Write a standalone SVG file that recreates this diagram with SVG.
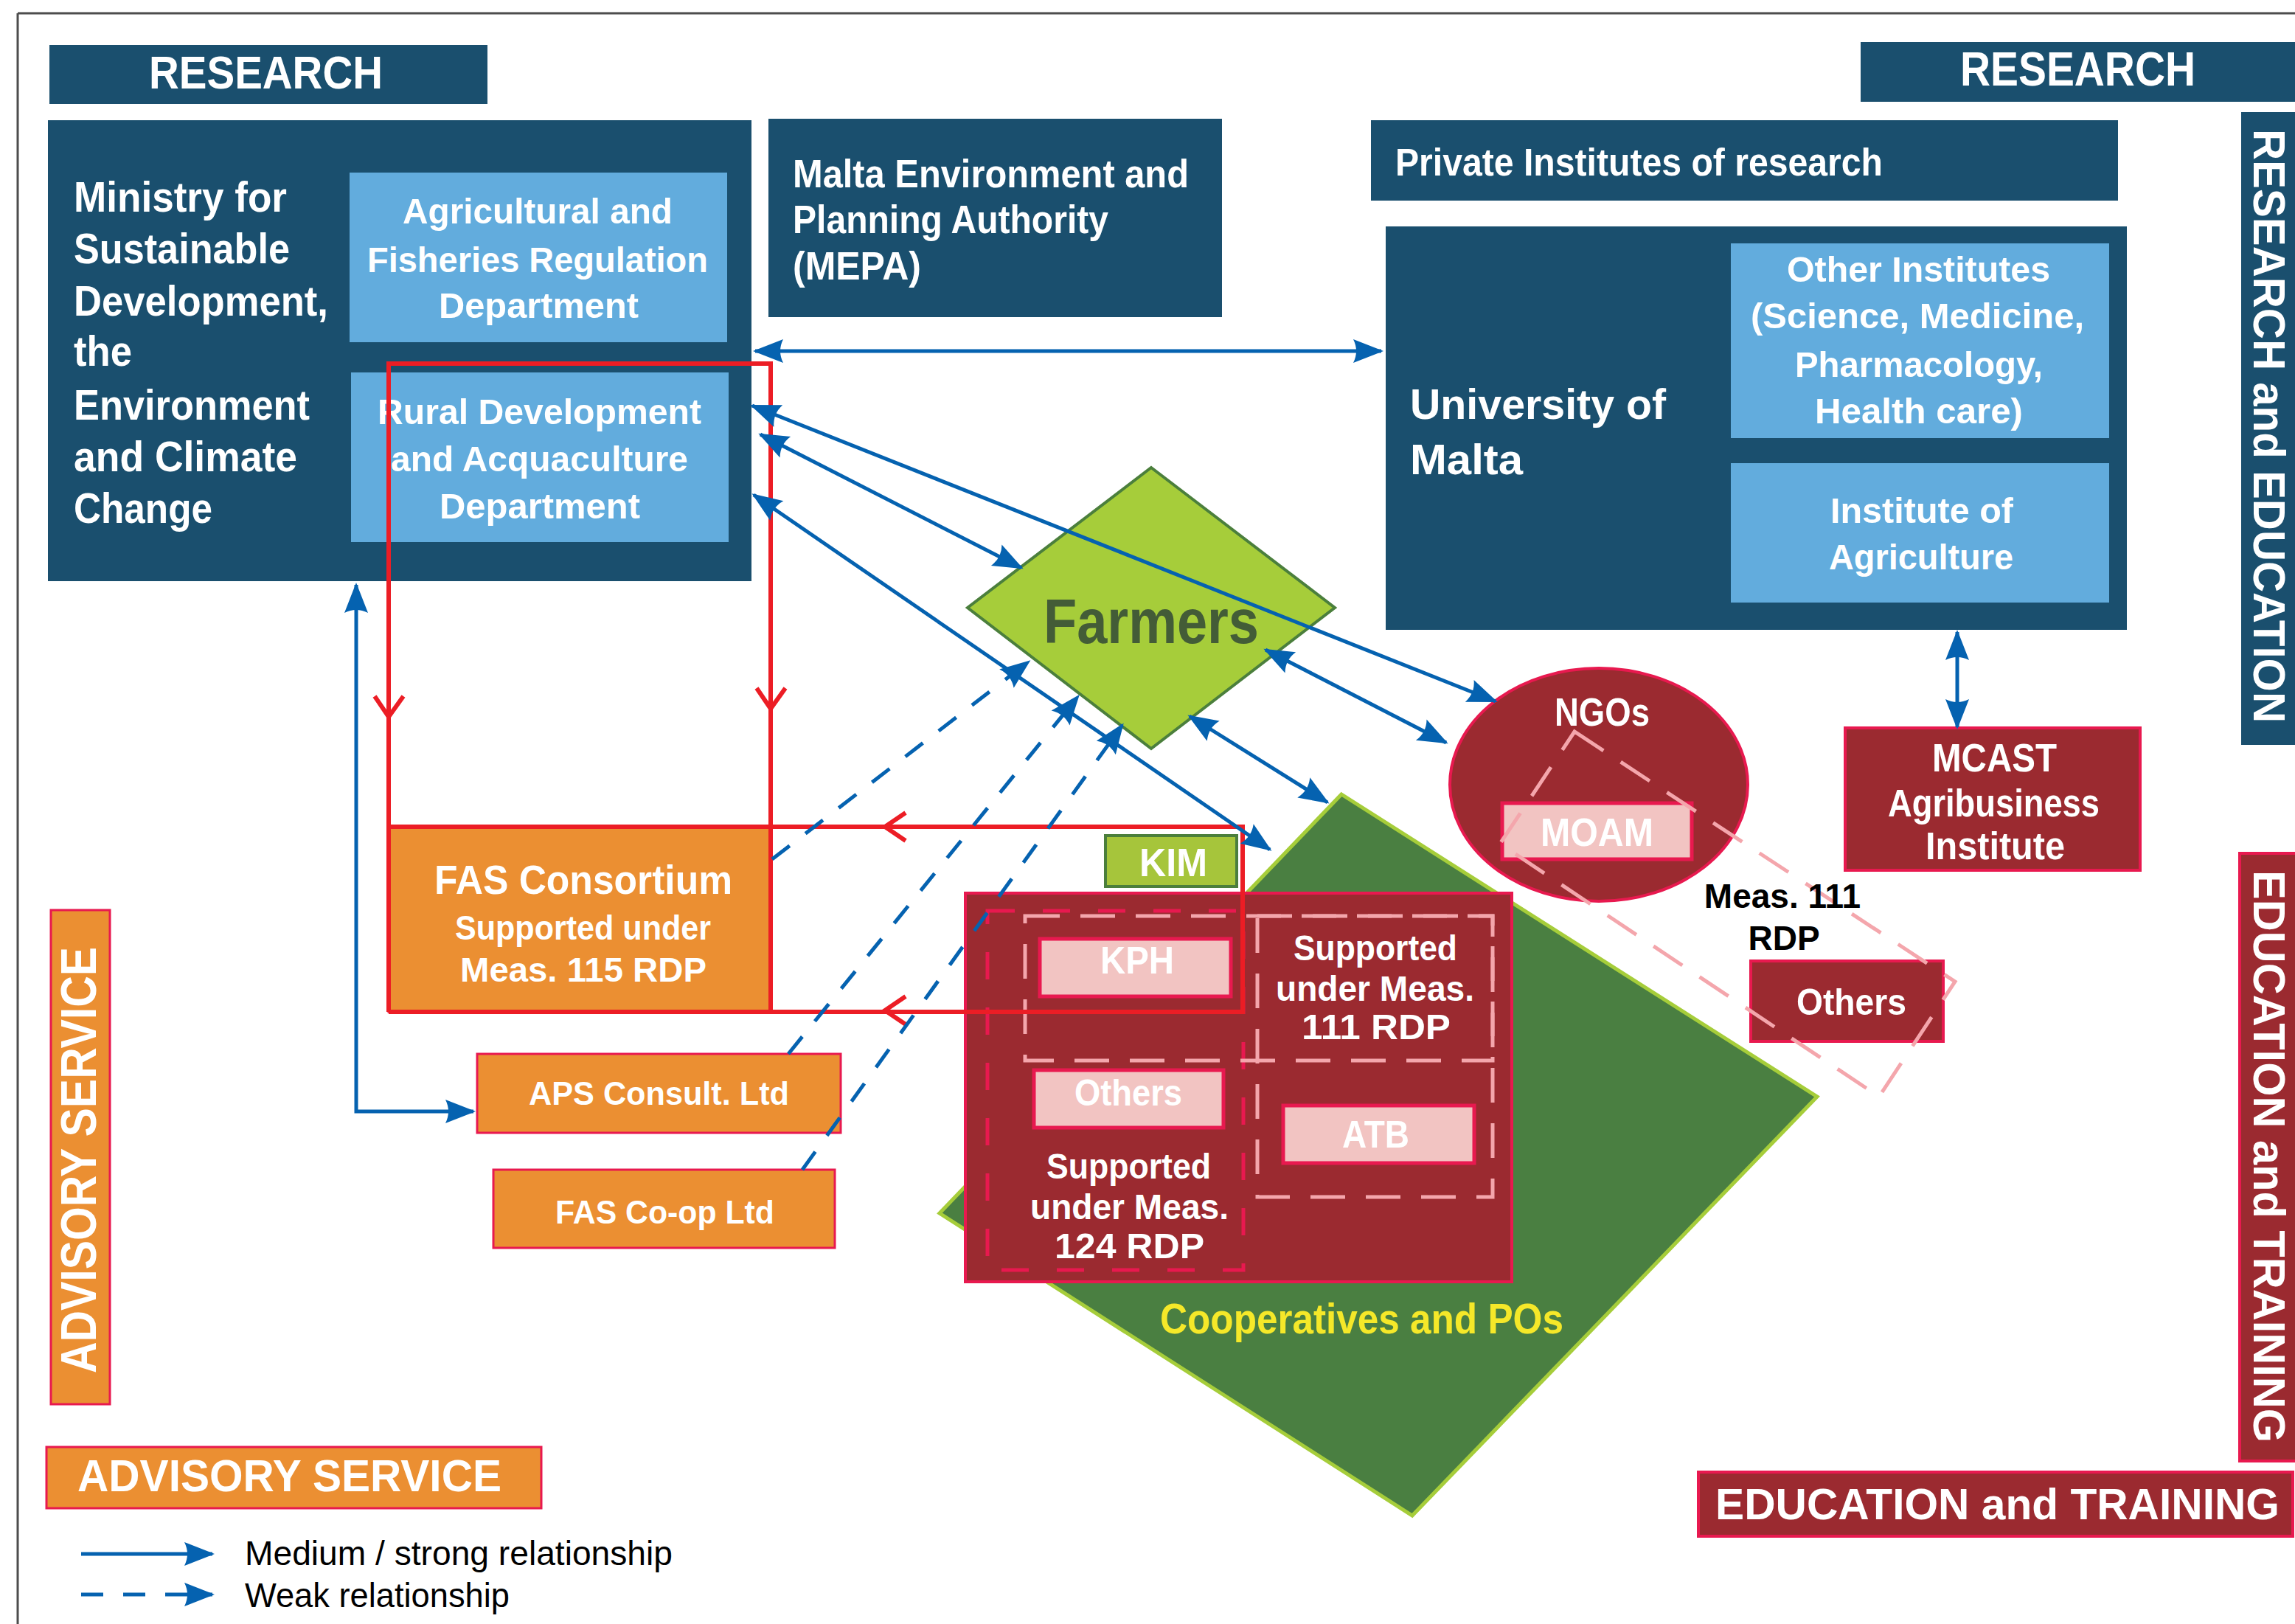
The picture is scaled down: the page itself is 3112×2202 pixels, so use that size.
<svg xmlns="http://www.w3.org/2000/svg" width="3112" height="2202" viewBox="0 0 3112 2202">
<style>
.t{font-family:"Liberation Sans Narrow","Liberation Sans",Arial,sans-serif;font-weight:bold;fill:#fff}
.ar{font-family:"Liberation Sans",Arial,sans-serif;font-weight:bold}
.reg{font-family:"Liberation Sans Narrow","Liberation Sans",Arial,sans-serif;font-weight:normal;fill:#000}
.dk{fill:#1a4f6e}
.lb{fill:#62acdd}
.or{fill:#eb8f32;stroke:#e8194f;stroke-width:3}
.mr{fill:#9b2a30;stroke:#e8194f;stroke-width:4}
.pk{fill:#f2c4c2;stroke:#e8194f;stroke-width:5}
.conn{stroke:#0562b0;stroke-width:5;fill:none;marker-start:url(#ah);marker-end:url(#ah)}
.one{stroke:#0562b0;stroke-width:5;fill:none;marker-end:url(#ah)}
.weak{stroke-dasharray:30 27}
.red{stroke:#ec1d25;stroke-width:6;fill:none}
.rdash{fill:none;stroke:#e8194f;stroke-width:5;stroke-dasharray:37 38}
.pdash{fill:none;stroke:#f4a6ac;stroke-width:5;stroke-dasharray:47 28}
</style>
<defs>
<marker id="ah" viewBox="-45 -20 50 40" refX="0" refY="0" markerWidth="50" markerHeight="40" markerUnits="userSpaceOnUse" orient="auto-start-reverse">
<path d="M3,0 L-38,-16 Q-30,0 -38,16 Z" fill="#0562b0"/>
</marker>
</defs>

<g id="frame" fill="none" stroke="#4d4d4d" stroke-width="3">
<line x1="24" y1="18" x2="3112" y2="18"/>
<line x1="24" y1="18" x2="24" y2="2202"/>
</g>

<g id="research-left">
<rect class="dk" x="67" y="61" width="594" height="80"/>
<text class="t" x="202" y="120" font-size="63" textLength="317" lengthAdjust="spacingAndGlyphs">RESEARCH</text>
</g>

<g id="ministry">
<rect class="dk" x="65" y="163" width="954" height="625"/>
<text class="t" x="100" y="287" font-size="57" textLength="289" lengthAdjust="spacingAndGlyphs">Ministry for</text>
<text class="t" x="100" y="357" font-size="57" textLength="293" lengthAdjust="spacingAndGlyphs">Sustainable</text>
<text class="t" x="100" y="428" font-size="57" textLength="345" lengthAdjust="spacingAndGlyphs">Development,</text>
<text class="t" x="100" y="496" font-size="57" textLength="79" lengthAdjust="spacingAndGlyphs">the</text>
<text class="t" x="100" y="569" font-size="57" textLength="320" lengthAdjust="spacingAndGlyphs">Environment</text>
<text class="t" x="100" y="639" font-size="57" textLength="303" lengthAdjust="spacingAndGlyphs">and Climate</text>
<text class="t" x="100" y="709" font-size="57" textLength="188" lengthAdjust="spacingAndGlyphs">Change</text>
</g>

<g id="agri-dept">
<rect class="lb" x="474" y="234" width="512" height="230"/>
<text class="t" x="546" y="303" font-size="49" textLength="366" lengthAdjust="spacingAndGlyphs">Agricultural and</text>
<text class="t" x="498" y="369" font-size="49" textLength="462" lengthAdjust="spacingAndGlyphs">Fisheries Regulation</text>
<text class="t" x="595" y="431" font-size="49" textLength="271" lengthAdjust="spacingAndGlyphs">Department</text>
</g>

<g id="rural-dept">
<rect class="lb" x="476" y="505" width="512" height="230"/>
<text class="t" x="512" y="575" font-size="49" textLength="439" lengthAdjust="spacingAndGlyphs">Rural Development</text>
<text class="t" x="530" y="639" font-size="49" textLength="403" lengthAdjust="spacingAndGlyphs">and Acquaculture</text>
<text class="t" x="596" y="703" font-size="49" textLength="272" lengthAdjust="spacingAndGlyphs">Department</text>
</g>

<g id="mepa">
<rect class="dk" x="1042" y="161" width="615" height="269"/>
<text class="t" x="1075" y="254" font-size="53" textLength="537" lengthAdjust="spacingAndGlyphs">Malta Environment and</text>
<text class="t" x="1075" y="316" font-size="53" textLength="428" lengthAdjust="spacingAndGlyphs">Planning Authority</text>
<text class="t" x="1075" y="379" font-size="53" textLength="174" lengthAdjust="spacingAndGlyphs">(MEPA)</text>
</g>

<g id="private-institutes">
<rect class="dk" x="1859" y="163" width="1013" height="109"/>
<text class="t" x="1892" y="238" font-size="51" textLength="661" lengthAdjust="spacingAndGlyphs">Private Institutes of research</text>
</g>

<g id="university">
<rect class="dk" x="1879" y="307" width="1005" height="547"/>
<text class="t" x="1912" y="568" font-size="58" textLength="347" lengthAdjust="spacingAndGlyphs">University of</text>
<text class="t" x="1912" y="643" font-size="58" textLength="153" lengthAdjust="spacingAndGlyphs">Malta</text>
</g>

<g id="other-institutes">
<rect class="lb" x="2347" y="330" width="513" height="264"/>
<text class="t" x="2423" y="382" font-size="49" textLength="357" lengthAdjust="spacingAndGlyphs">Other Institutes</text>
<text class="t" x="2374" y="445" font-size="49" textLength="452" lengthAdjust="spacingAndGlyphs">(Science, Medicine,</text>
<text class="t" x="2434" y="511" font-size="49" textLength="336" lengthAdjust="spacingAndGlyphs">Pharmacology,</text>
<text class="t" x="2461" y="574" font-size="49" textLength="282" lengthAdjust="spacingAndGlyphs">Health care)</text>
</g>

<g id="institute-agriculture">
<rect class="lb" x="2347" y="628" width="513" height="189"/>
<text class="t" x="2482" y="709" font-size="49" textLength="248" lengthAdjust="spacingAndGlyphs">Institute of</text>
<text class="t" x="2480" y="772" font-size="49" textLength="250" lengthAdjust="spacingAndGlyphs">Agriculture</text>
</g>

<g id="research-right">
<rect class="dk" x="2523" y="57" width="589" height="81"/>
<text class="t" x="2658" y="116" font-size="64" textLength="319" lengthAdjust="spacingAndGlyphs">RESEARCH</text>
</g>

<g id="research-education">
<rect class="dk" x="3039" y="152" width="73" height="858"/>
<text class="t ar" transform="translate(3056,175) rotate(90)" font-size="61" textLength="805" lengthAdjust="spacingAndGlyphs">RESEARCH and EDUCATION</text>
</g>

<g id="education-training-v">
<rect class="mr" x="3037" y="1157" width="80" height="824"/>
<text class="t ar" transform="translate(3056,1180) rotate(90)" font-size="61" textLength="776" lengthAdjust="spacingAndGlyphs">EDUCATION and TRAINING</text>
</g>

<g id="education-training-h">
<rect class="mr" x="2303" y="1996" width="806" height="87"/>
<text class="t ar" x="2326" y="2060" font-size="60" textLength="765" lengthAdjust="spacingAndGlyphs">EDUCATION and TRAINING</text>
</g>

<g id="mcast">
<rect class="mr" x="2502" y="987" width="400" height="193"/>
<text class="t" x="2620" y="1046" font-size="54" textLength="169" lengthAdjust="spacingAndGlyphs">MCAST</text>
<text class="t" x="2560" y="1107" font-size="51" textLength="287" lengthAdjust="spacingAndGlyphs">Agribusiness</text>
<text class="t" x="2611" y="1165" font-size="51" textLength="189" lengthAdjust="spacingAndGlyphs">Institute</text>
</g>

<g id="cooperatives">
<polygon points="1819,1077 2464,1487 1915,2055 1274,1645" fill="#4a7f41" stroke="#a6cd3a" stroke-width="5"/>
<text class="t" x="1573" y="1808" font-size="57" textLength="547" lengthAdjust="spacingAndGlyphs" style="fill:#f5e829">Cooperatives and POs</text>
</g>

<g id="ngos">
<ellipse class="mr" cx="2168" cy="1064" rx="202" ry="158"/>
<text class="t" x="2108" y="984" font-size="53" textLength="129" lengthAdjust="spacingAndGlyphs">NGOs</text>
</g>

<g id="moam">
<rect class="pk" x="2037" y="1089" width="257" height="76"/>
<text class="t" x="2089" y="1147" font-size="53" textLength="153" lengthAdjust="spacingAndGlyphs">MOAM</text>
</g>

<g id="others-right">
<rect class="mr" x="2374" y="1303" width="261" height="109"/>
<text class="t" x="2436" y="1376" font-size="50" textLength="149" lengthAdjust="spacingAndGlyphs">Others</text>
</g>

<g id="meas111-group">
<polygon class="pdash" points="2135,992 2651,1331 2548,1487 2034,1144" stroke-dasharray="55 30"/>
<text class="ar" x="2417" y="1231" font-size="46" text-anchor="middle" fill="#000">Meas. 111</text>
<text class="ar" x="2419" y="1288" font-size="46" text-anchor="middle" fill="#000">RDP</text>
</g>

<g id="coop-box">
<rect class="mr" x="1309" y="1211" width="741" height="527"/>
<rect class="rdash" x="1339" y="1235" width="347" height="487"/>
<rect class="pdash" x="1390" y="1242" width="634" height="196"/>
<rect class="pdash" x="1705" y="1242" width="319" height="381"/>
<text class="t" x="1754" y="1302" font-size="48" textLength="222" lengthAdjust="spacingAndGlyphs">Supported</text>
<text class="t" x="1730" y="1357" font-size="48" textLength="269" lengthAdjust="spacingAndGlyphs">under Meas.</text>
<text class="t" x="1765" y="1409" font-size="48" textLength="202" lengthAdjust="spacingAndGlyphs">111 RDP</text>
<text class="t" x="1419" y="1598" font-size="48" textLength="223" lengthAdjust="spacingAndGlyphs">Supported</text>
<text class="t" x="1397" y="1653" font-size="48" textLength="269" lengthAdjust="spacingAndGlyphs">under Meas.</text>
<text class="t" x="1430" y="1706" font-size="48" textLength="203" lengthAdjust="spacingAndGlyphs">124 RDP</text>
</g>

<g id="kph">
<rect class="pk" x="1410" y="1273" width="259" height="78"/>
<text class="t" x="1492" y="1320" font-size="52" textLength="100" lengthAdjust="spacingAndGlyphs">KPH</text>
</g>

<g id="others-inner">
<rect class="pk" x="1402" y="1451" width="257" height="78"/>
<text class="t" x="1457" y="1499" font-size="50" textLength="146" lengthAdjust="spacingAndGlyphs">Others</text>
</g>

<g id="atb">
<rect class="pk" x="1740" y="1499" width="259" height="78"/>
<text class="t" x="1820" y="1556" font-size="52" textLength="91" lengthAdjust="spacingAndGlyphs">ATB</text>
</g>

<g id="kim">
<rect x="1499" y="1133" width="178" height="69" fill="#a6c53b" stroke="#4b7f3c" stroke-width="4"/>
<text class="t" x="1545" y="1188" font-size="53" textLength="92" lengthAdjust="spacingAndGlyphs">KIM</text>
</g>

<g id="farmers">
<polygon points="1561,634 1810,824 1561,1015 1312,824" fill="#a6cd3a" stroke="#4b7f3c" stroke-width="4"/>
<text class="t" x="1415" y="872" font-size="86" textLength="292" lengthAdjust="spacingAndGlyphs" style="fill:#435c37">Farmers</text>
</g>

<g id="fas-consortium">
<rect class="or" x="527" y="1121" width="518" height="251"/>
<text class="t" x="589" y="1212" font-size="56" textLength="404" lengthAdjust="spacingAndGlyphs">FAS Consortium</text>
<text class="t" x="617" y="1274" font-size="46" textLength="347" lengthAdjust="spacingAndGlyphs">Supported under</text>
<text class="t" x="624" y="1331" font-size="46" textLength="334" lengthAdjust="spacingAndGlyphs">Meas. 115 RDP</text>
</g>

<g id="aps">
<rect class="or" x="647" y="1429" width="493" height="107"/>
<text class="t" x="717" y="1498" font-size="45" textLength="353" lengthAdjust="spacingAndGlyphs">APS Consult. Ltd</text>
</g>

<g id="fas-coop">
<rect class="or" x="669" y="1586" width="463" height="106"/>
<text class="t" x="753" y="1659" font-size="45" textLength="297" lengthAdjust="spacingAndGlyphs">FAS Co-op Ltd</text>
</g>

<g id="advisory-v">
<rect class="or" x="69" y="1234" width="80" height="670"/>
<text class="t ar" transform="translate(130,1862) rotate(-90)" font-size="68" textLength="578" lengthAdjust="spacingAndGlyphs">ADVISORY SERVICE</text>
</g>

<g id="legend">
<rect class="or" x="63" y="1962" width="671" height="83"/>
<text class="t" x="105" y="2022" font-size="62" textLength="575" lengthAdjust="spacingAndGlyphs">ADVISORY SERVICE</text>
<line class="one" x1="110" y1="2107" x2="288" y2="2107"/>
<line class="one weak" x1="110" y1="2162" x2="288" y2="2162" stroke-dasharray="27 26"/>
<text class="reg" x="332" y="2122" font-size="46" textLength="580" lengthAdjust="spacingAndGlyphs">Medium / strong relationship</text>
<text class="reg" x="332" y="2179" font-size="46" textLength="359" lengthAdjust="spacingAndGlyphs">Weak relationship</text>
</g>

<g id="connectors">
<g id="red-loop">
<path class="red" d="M527,1372 L527,493 L1045,493 L1045,1372"/>
<path class="red" d="M527,1121 L1685,1121 L1685,1372 L527,1372"/>
<polyline class="red" points="508,944 527,972 547,944"/>
<polyline class="red" points="1026,933 1045,961 1065,933"/>
<polyline class="red" points="1228,1102 1200,1121 1228,1140"/>
<polyline class="red" points="1228,1351 1200,1370 1228,1389"/>
</g>
<line class="conn" x1="1024" y1="476" x2="1873" y2="476"/>
<line class="conn" x1="1020" y1="550" x2="2028" y2="951"/>
<line class="conn" x1="1031" y1="589" x2="1385" y2="770"/>
<line class="conn" x1="1022" y1="671" x2="1722" y2="1152"/>
<line class="conn" x1="1716" y1="881" x2="1961" y2="1007"/>
<line class="conn" x1="1613" y1="971" x2="1800" y2="1088"/>
<line class="conn" x1="2654" y1="857" x2="2654" y2="986"/>
<path class="conn" d="M483,793 L483,1507 L642,1507"/>
<line class="one weak" x1="1047" y1="1165" x2="1395" y2="897"/>
<line class="one weak" x1="1069" y1="1429" x2="1462" y2="944"/>
<line class="one weak" x1="1088" y1="1586" x2="1522" y2="983"/>
</g>
</svg>
